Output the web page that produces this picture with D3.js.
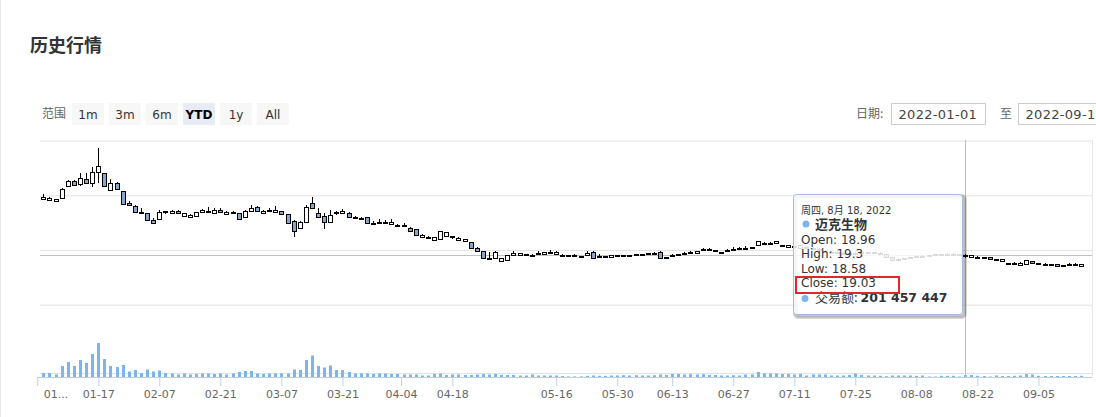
<!DOCTYPE html>
<html lang="zh-CN">
<head>
<meta charset="UTF-8">
<title>历史行情</title>
<script src="https://d3js.org/d3.v7.min.js"></script>
<style>
    body {
        margin: 0;
        background: #fff;
        font-family: "DejaVu Sans", "Noto Sans CJK SC", sans-serif;
    }
    #chart {
        width: 1096px;
        height: 417px;
        overflow: hidden;
    }
    .cjk { font-family: "Noto Sans CJK SC", sans-serif; }
    .axis text { font-family: "DejaVu Sans", sans-serif; font-size: 11px; fill: #666; }
</style>
</head>
<body>
<div id="chart"></div>
<script>
// trading calendar (A-share, 2022): weekdays minus exchange holidays
const startDate = '2022-01-04', endDate = '2022-09-15';
const holidays = ['2022-01-31', '2022-02-01', '2022-02-02', '2022-02-03', '2022-02-04',
    '2022-04-04', '2022-04-05', '2022-05-02', '2022-05-03', '2022-05-04', '2022-06-03', '2022-09-12'];

const openP = [
    29.3, 29.1, 28.9, 29.5, 31.7, 32.6, 32.0, 32.9, 32.2, 34.3,
    34.0, 31.0, 32.3, 30.7, 28.6, 28.1, 27.0, 26.7, 25.5, 25.7,
    27.15, 26.7, 27.1, 26.3, 26.0, 26.3, 26.9, 27.2, 26.8, 27.3,
    26.6, 26.9, 26.7, 26.0, 27.2, 27.9, 26.8, 27.4, 26.95, 27.1,
    26.5, 25.3, 24.0, 25.2, 28.66, 26.7, 26.2, 25.2, 26.9, 26.7,
    26.8, 25.95, 25.8, 26.0, 24.95, 25.1, 24.95, 24.7, 24.6, 24.55,
    24.1, 23.8, 22.3, 22.35, 21.85, 22.0, 22.6, 22.6, 21.8, 21.7,
    21.5, 20.4, 19.8, 18.55, 18.5, 18.0, 18.2, 19.1, 19.05, 19.2,
    19.15, 19.45, 19.2, 19.65, 19.3, 19.15, 19.1, 19.05, 18.82, 19.1,
    19.7, 18.95, 18.85, 18.8, 18.85, 19.15, 19.15, 19.2, 19.25, 19.35,
    19.4, 19.7, 18.6, 18.85, 19.2, 19.35, 19.4, 19.5, 20.0, 20.0,
    19.8, 19.7, 19.8, 20.25, 20.3, 20.4, 20.5, 21.0, 21.25, 21.2,
    21.2, 20.85, 20.5, 20.7, 20.4, 20.6, 20.3, 20.1, 19.9, 19.7,
    19.55, 19.5, 19.5, 19.45, 19.55, 19.6, 19.6, 19.5, 19.3, 18.7,
    18.3, 18.3, 18.6, 18.75, 18.9, 18.85, 19.1, 19.2, 19.3, 19.3,
    19.2, 18.96, 18.75, 18.8, 18.7, 18.65, 18.3, 18.0, 17.6, 17.55,
    17.3, 17.35, 18.0, 17.6, 17.45, 17.4, 17.4, 17.28, 17.35, 17.35,
    17.05];
const highP = [
    30.2, 29.7, 29.4, 31.3, 32.8, 32.8, 34.0, 34.0, 35.1, 38.6,
    34.1, 32.9, 32.5, 30.8, 28.9, 28.3, 27.6, 26.8, 25.8, 27.3,
    27.2, 27.3, 27.3, 26.7, 26.5, 27.0, 27.5, 27.9, 27.6, 27.6,
    27.1, 27.2, 26.8, 27.3, 28.2, 28.0, 27.4, 27.6, 28.0, 27.2,
    26.5, 25.5, 25.3, 28.2, 29.75, 27.7, 26.7, 27.4, 27.2, 27.5,
    27.0, 26.2, 26.1, 26.0, 25.3, 25.6, 25.5, 25.6, 24.7, 24.9,
    24.2, 23.8, 22.9, 22.6, 22.4, 23.5, 23.3, 22.6, 22.3, 22.1,
    21.5, 20.5, 19.9, 19.7, 19.8, 18.6, 19.1, 19.75, 19.5, 19.3,
    19.3, 19.9, 19.7, 20.0, 19.8, 19.2, 19.15, 19.2, 18.85, 19.8,
    19.8, 19.3, 18.85, 19.1, 19.1, 19.15, 19.15, 19.25, 19.3, 19.4,
    19.6, 19.8, 18.8, 19.2, 19.25, 19.7, 19.8, 19.9, 20.3, 20.3,
    20.0, 19.7, 20.1, 20.6, 20.6, 20.8, 20.6, 21.7, 21.4, 21.4,
    21.7, 20.9, 20.95, 20.8, 21.0, 20.7, 20.5, 20.3, 20.0, 19.8,
    19.8, 19.6, 19.55, 19.6, 19.8, 19.7, 19.7, 19.55, 19.35, 18.75,
    18.6, 18.6, 18.75, 18.9, 19.0, 19.1, 19.3, 19.35, 19.4, 19.4,
    19.3, 19.3, 19.05, 18.85, 18.75, 18.7, 18.35, 18.4, 17.65, 17.75,
    17.75, 18.25, 18.05, 17.65, 17.6, 17.45, 17.45, 17.3, 17.55, 17.55,
    17.45];
const lowP = [
    29.3, 29.0, 28.85, 29.4, 31.6, 31.7, 31.7, 32.1, 31.6, 32.3,
    31.6, 30.9, 31.0, 28.5, 28.0, 26.9, 26.8, 25.4, 24.8, 25.6,
    26.6, 26.7, 26.7, 26.1, 25.9, 26.2, 26.8, 26.8, 26.8, 26.9,
    26.6, 26.7, 25.4, 25.9, 27.1, 27.1, 26.7, 27.1, 26.9, 26.5,
    25.0, 22.3, 23.9, 25.1, 27.5, 25.8, 23.8, 25.2, 26.4, 26.5,
    25.8, 25.7, 25.5, 24.8, 24.8, 24.8, 24.8, 24.7, 24.5, 24.5,
    23.3, 22.8, 22.2, 22.1, 21.8, 21.9, 22.6, 22.1, 21.7, 21.6,
    20.2, 19.7, 18.4, 18.4, 18.4, 17.9, 18.0, 19.0, 19.0, 19.1,
    19.05, 19.4, 19.2, 19.3, 19.3, 18.9, 18.9, 18.9, 18.75, 19.05,
    18.5, 18.85, 18.5, 18.75, 18.8, 18.8, 18.9, 19.1, 19.15, 19.3,
    19.2, 18.45, 18.5, 18.8, 18.9, 19.3, 19.35, 19.45, 19.95, 19.95,
    19.75, 19.4, 19.75, 20.2, 20.25, 20.35, 20.3, 21.0, 21.0, 21.0,
    21.15, 20.75, 20.45, 20.4, 20.35, 20.3, 20.1, 19.9, 19.7, 19.5,
    19.45, 19.4, 19.35, 19.4, 19.5, 19.5, 19.45, 19.3, 18.75, 18.2,
    18.2, 18.25, 18.5, 18.7, 18.8, 18.8, 19.05, 19.1, 19.2, 19.15,
    19.0, 18.58, 18.7, 18.5, 18.6, 18.3, 18.25, 17.95, 17.5, 17.4,
    17.25, 17.3, 17.65, 17.5, 17.3, 17.3, 17.05, 17.2, 17.2, 17.2,
    17.0];
const closeP = [
    29.7, 29.5, 29.3, 31.1, 32.6, 31.9, 33.2, 32.2, 34.3, 35.4,
    31.7, 32.2, 31.1, 28.5, 28.3, 27.0, 26.8, 25.5, 24.9, 27.0,
    26.95, 27.1, 26.8, 26.7, 26.4, 27.0, 27.3, 26.9, 27.4, 27.0,
    27.0, 26.8, 25.6, 27.1, 27.7, 27.1, 27.2, 27.1, 27.4, 26.6,
    25.0, 23.5, 25.2, 27.9, 27.6, 26.0, 25.2, 26.4, 26.95, 27.2,
    26.0, 25.9, 25.75, 24.9, 24.85, 25.0, 25.1, 25.05, 24.55, 24.5,
    23.4, 22.8, 22.7, 22.3, 22.3, 23.4, 23.2, 22.55, 22.2, 22.0,
    20.3, 19.8, 18.5, 18.5, 19.7, 18.5, 19.1, 19.5, 19.4, 19.15,
    19.1, 19.4, 19.6, 19.7, 19.65, 19.1, 19.05, 19.0, 18.8, 19.5,
    18.55, 18.9, 18.8, 19.0, 19.05, 19.1, 19.1, 19.15, 19.2, 19.4,
    19.35, 18.5, 18.7, 19.1, 19.15, 19.4, 19.7, 19.8, 20.25, 20.25,
    19.95, 19.6, 20.05, 20.2, 20.3, 20.4, 20.5, 21.6, 21.2, 21.25,
    21.6, 20.8, 20.9, 20.5, 20.95, 20.4, 20.2, 20.0, 19.8, 19.6,
    19.5, 19.5, 19.45, 19.5, 19.6, 19.6, 19.55, 19.35, 18.8, 18.25,
    18.25, 18.55, 18.7, 18.85, 18.95, 19.05, 19.2, 19.25, 19.3, 19.25,
    19.1, 19.03, 19.0, 18.75, 18.65, 18.3, 18.28, 18.3, 17.55, 17.55,
    17.7, 18.2, 17.7, 17.55, 17.45, 17.38, 17.1, 17.25, 17.38, 17.4,
    17.4];
// 交易额, 亿元
const amount = [
    4, 4, 2.5, 11, 15, 11, 17, 14, 23, 34,
    18, 11, 10, 12, 5.5, 7, 4, 7.5, 5.5, 6.5,
    4, 3.5, 2.5, 3.5, 2.5, 3, 3.5, 3.5, 3, 3.5,
    2.5, 3.5, 5, 6, 6, 3.5, 3, 3.5, 3.5, 3.5,
    3.5, 7.5, 7, 17, 21.5, 11, 9.5, 11.5, 7, 7,
    5, 3.5, 3.5, 3.5, 3, 3.5, 3.5, 3, 3, 2.5,
    2.5, 2.5, 1.5, 1.5, 3, 3.5, 2, 2.5, 2.5, 2,
    2, 2.5, 3, 2.5, 3, 2, 2, 2, 1.5, 1.5,
    2.5, 1.5, 1.5, 1.5, 1.5, 1, 0.6, 0.6, 0.6, 1.2,
    1.5, 1.2, 1.2, 1.5, 1.5, 1.8, 1.5, 1.8, 1.5, 1.5,
    1.8, 2.5, 2, 3, 3, 2.5, 2.8, 2.5, 2.8, 2,
    2, 1.5, 1.5, 1.8, 1.5, 2.5, 2.5, 5, 3.5, 3.5,
    3.5, 3, 3, 2.5, 3, 1.5, 2.5, 2.5, 2.5, 1.5,
    1.5, 1.5, 2, 3.5, 2, 1.5, 1.5, 1.2, 0.8, 1.5,
    1.5, 1.5, 1.5, 1.2, 1.5, 0.5, 0.5, 1.2, 1.2, 1.2,
    0.5, 2.01457447, 2, 1.2, 1, 0.5, 1.5, 1, 1, 1.2,
    1.5, 3, 2.5, 1.2, 1, 1, 1, 1, 1, 1,
    1.2];

const tickDates = ['2022-01-03', '2022-01-17', '2022-02-07', '2022-02-21', '2022-03-07', '2022-03-21',
    '2022-04-04', '2022-04-18', '2022-05-16', '2022-05-30', '2022-06-13', '2022-06-27',
    '2022-07-11', '2022-07-25', '2022-08-08', '2022-08-22', '2022-09-05'];
const tickLabels = ['01...', '01-17', '02-07', '02-21', '03-07', '03-21', '04-04', '04-18',
    '05-16', '05-30', '06-13', '06-27', '07-11', '07-25', '08-08', '08-22', '09-05'];
const priceGrid = [10, 20, 30, 40];
const rangeButtons = ['1m', '3m', '6m', 'YTD', '1y', 'All'];
const selectedRange = 'YTD';
const seriesName = '迈克生物';
const hoverDate = '2022-08-18';
const weekNames = ['周日', '周一', '周二', '周三', '周四', '周五', '周六'];

const parse = d3.utcParse('%Y-%m-%d');
const fmt = d3.utcFormat('%Y-%m-%d');
const dates = d3.utcDays(parse(startDate), d3.utcDay.offset(parse(endDate), 1))
    .filter(d => d.getUTCDay() !== 0 && d.getUTCDay() !== 6 && !holidays.includes(fmt(d)));
const dateKeys = dates.map(fmt);

// ordinal position of any calendar day (for week ticks on non-trading days)
function ordIndex(s) {
    const i = dateKeys.indexOf(s);
    if (i >= 0) return i;
    const t = parse(s);
    const j = dates.findIndex(d => d > t);
    if (j <= 0) return -1;
    return j - 1 + (t - dates[j - 1]) / (dates[j] - dates[j - 1]);
}

const W = 1096, H = 417;
const plotL = 40, plotR = 1092, axisY = 377;

const x = d3.scaleLinear().domain([0, dates.length - 1]).range([43.3, 1081.2]);
const y = d3.scaleLinear().domain([10, 40]).range([304.7, 140.6]);
const vy = d3.scaleLinear().domain([0, 40]).range([axisY, axisY - 40]);

const svg = d3.select('#chart').append('svg')
    .attr('width', W).attr('height', H);

// card edge
svg.append('line').attr('x1', 0.5).attr('x2', 0.5).attr('y1', 0).attr('y2', H)
    .attr('stroke', '#e8e8e8');

svg.append('text').attr('class', 'cjk')
    .attr('x', 30).attr('y', 52)
    .attr('font-size', 18).attr('font-weight', 'bold').attr('fill', '#333')
    .text('历史行情');

// range selector
svg.append('text').attr('class', 'cjk').attr('x', 42).attr('y', 118)
    .attr('font-size', 12).attr('fill', '#666').text('范围');
const btn = svg.append('g').selectAll('g').data(rangeButtons).join('g')
    .attr('transform', (d, i) => `translate(${72 + i * 37},103)`);
btn.append('rect').attr('width', 32).attr('height', 22)
    .attr('fill', d => d === selectedRange ? '#e6ebf5' : '#f7f7f7');
btn.append('text').attr('x', 16).attr('y', 15.5).attr('text-anchor', 'middle')
    .attr('font-size', 12)
    .attr('font-weight', d => d === selectedRange ? 'bold' : 'normal')
    .attr('fill', d => d === selectedRange ? '#000' : '#333')
    .text(d => d);

// date inputs
svg.append('text').attr('class', 'cjk').attr('x', 856).attr('y', 118)
    .attr('font-size', 12).attr('fill', '#666').text('日期:');
svg.append('text').attr('class', 'cjk').attr('x', 1000).attr('y', 118)
    .attr('font-size', 12).attr('fill', '#666').text('至');
[[891.5, startDate.replace('-04', '-01')], [1018.5, '2022-09-16']].forEach(([bx, txt]) => {
    svg.append('rect').attr('x', bx).attr('y', 103.5).attr('width', 94).attr('height', 21)
        .attr('fill', '#fff').attr('stroke', '#ccc');
    svg.append('text').attr('x', bx + 7).attr('y', 119).attr('font-size', 13)
        .attr('fill', '#444').attr('letter-spacing', 0.3).text(txt);
});

// grid
svg.append('g').attr('class', 'grid')
    .attr('transform', `translate(${plotL},0)`)
    .call(d3.axisLeft(y).tickValues(priceGrid).tickSize(-(plotR - plotL)).tickFormat(''))
    .call(g => g.select('.domain').remove())
    .call(g => g.selectAll('line').attr('stroke', '#e3e3e3'));
svg.append('line').attr('x1', plotL).attr('x2', plotR).attr('y1', 373.5).attr('y2', 373.5)
    .attr('stroke', '#dde3ea');
svg.append('line').attr('x1', plotR + 0.5).attr('x2', plotR + 0.5).attr('y1', 140).attr('y2', axisY)
    .attr('stroke', '#e6e6e6');

// volume
svg.append('g').selectAll('rect').data(amount).join('rect')
    .attr('x', (d, i) => Math.round(x(i)) - 1)
    .attr('width', 3)
    .attr('y', d => vy(d))
    .attr('height', d => axisY - vy(d))
    .attr('fill', '#7cb5ec');

// crosshair
const hi = dateKeys.indexOf(hoverDate);
const cx = Math.round(x(hi)) + 0.5;
svg.append('line').attr('x1', cx).attr('x2', cx).attr('y1', 140).attr('y2', axisY)
    .attr('stroke', '#c0c0c0');
const cy = Math.round(y(closeP[hi])) + 0.5;
svg.append('line').attr('x1', plotL).attr('x2', plotR).attr('y1', cy).attr('y2', cy)
    .attr('stroke', '#c0c0c0');

// candles
const candle = svg.append('g').selectAll('g').data(dates).join('g');
candle.append('line')
    .attr('x1', (d, i) => Math.round(x(i)) + 0.5)
    .attr('x2', (d, i) => Math.round(x(i)) + 0.5)
    .attr('y1', (d, i) => Math.round(y(highP[i])))
    .attr('y2', (d, i) => Math.round(y(lowP[i])))
    .attr('stroke', '#000');
candle.append('rect')
    .attr('x', (d, i) => Math.round(x(i)) - 1.5)
    .attr('width', 4)
    .attr('y', (d, i) => Math.round(y(Math.max(openP[i], closeP[i]))) + 0.5)
    .attr('height', (d, i) => Math.max(1, Math.round(y(Math.min(openP[i], closeP[i]))) - Math.round(y(Math.max(openP[i], closeP[i])))))
    .attr('fill', (d, i) => closeP[i] >= openP[i] ? '#fff' : '#89a6cc')
    .attr('stroke', '#000');

// x axis
const xAxis = svg.append('g').attr('class', 'axis')
    .attr('transform', `translate(0,${axisY})`)
    .call(d3.axisBottom(x)
        .tickValues(tickDates.map(ordIndex))
        .tickFormat((d, i) => tickLabels[i])
        .tickSize(9).tickPadding(4));
xAxis.select('.domain').attr('stroke', '#c0d0e0').attr('d', `M${plotL - 3},0.5H${plotR}`);
xAxis.selectAll('.tick line').attr('stroke', '#c0d0e0');
xAxis.select('.tick text').attr('text-anchor', 'start').attr('dx', 6);

// tooltip
const tx = 793.5, ty = 194.5, tw = 169, th = 120;
const tip = svg.append('g');
[3, 2, 1].forEach(k => {
    tip.append('rect').attr('x', tx + 1).attr('y', ty + 1).attr('width', tw).attr('height', th)
        .attr('rx', 3).attr('fill', 'none')
        .attr('stroke', 'rgba(0,0,0,' + (0.05 * k) + ')').attr('stroke-width', k * 2 - 1)
        .attr('transform', 'translate(1,1)');
});
tip.append('rect').attr('x', tx).attr('y', ty).attr('width', tw).attr('height', th).attr('rx', 3)
    .attr('fill', 'rgba(255,255,255,0.86)').attr('stroke', '#a3bfdd');

const hd = dates[hi];
tip.append('text').attr('x', 801).attr('y', 214).attr('font-size', 10).attr('fill', '#333')
    .text(`${weekNames[hd.getUTCDay()]}, ${hd.getUTCMonth() + 1}月 ${hd.getUTCDate()}, ${hd.getUTCFullYear()}`);
tip.append('circle').attr('cx', 806).attr('cy', 224).attr('r', 3.5).attr('fill', '#7cb5ec');
tip.append('text').attr('class', 'cjk').attr('x', 815).attr('y', 229).attr('font-size', 13)
    .attr('font-weight', 'bold').attr('fill', '#333').text(seriesName);
const rows = [['Open', openP[hi]], ['High', highP[hi]], ['Low', lowP[hi]], ['Close', closeP[hi]]];
rows.forEach(([k, v], i) => {
    tip.append('text').attr('x', 801).attr('y', 244 + i * 14.3).attr('font-size', 12)
        .attr('fill', '#333').text(`${k}: ${v}`);
});
tip.append('circle').attr('cx', 805).attr('cy', 298.5).attr('r', 3.5).attr('fill', '#7cb5ec');
const vt = tip.append('text').attr('x', 815).attr('y', 302).attr('font-size', 12).attr('fill', '#333');
vt.append('tspan').attr('class', 'cjk').attr('font-size', 13).text('交易额: ');
vt.append('tspan').attr('font-weight', 'bold').attr('font-size', 12.5)
    .text(d3.format(',')(Math.round(amount[hi] * 1e8)).replace(/,/g, ' '));

// highlight box
svg.append('rect').attr('x', 796).attr('y', 277).attr('width', 103).attr('height', 16)
    .attr('fill', 'none').attr('stroke', '#e3262b').attr('stroke-width', 2);
</script>
</body>
</html>
